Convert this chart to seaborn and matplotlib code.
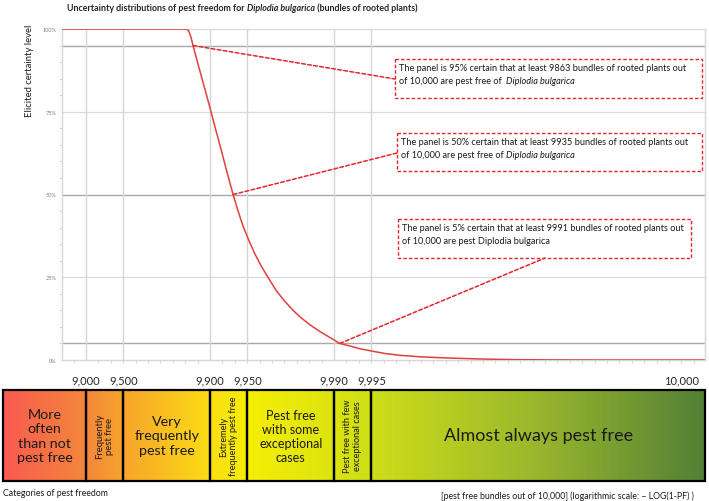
import numpy as np
import matplotlib
matplotlib.use('Agg')
import matplotlib.pyplot as plt
import seaborn as sns
from matplotlib.colors import LinearSegmentedColormap
from matplotlib.patches import Rectangle, ConnectionPatch
from matplotlib.ticker import MultipleLocator

# ============================================================================
# DATA
# ============================================================================

# pest free bundles out of 10,000 vs elicited certainty (exceedance curve)
pest_free = [8440, 9846.7, 9852.3, 9857.7, 9862.9, 9872.7, 9884.0, 9894.3,
             9901.8, 9910.5, 9920.0, 9927.1, 9934.8, 9940.6, 9945.8, 9951.5,
             9956.6, 9961.2, 9965.9, 9970.7, 9974.7, 9978.2, 9981.2, 9984.4,
             9987.0, 9989.2, 9991.0, 9992.6, 9993.8, 9995.2, 9996.2, 9997.1,
             9998.0, 9998.8, 9999.34, 9999.64, 9999.82, 9999.93, 9999.99]
certainty = [1.000, 1.000, 0.992, 0.975, 0.950, 0.905, 0.850, 0.795,
             0.750, 0.693, 0.625, 0.567, 0.500, 0.450, 0.405, 0.360,
             0.320, 0.285, 0.250, 0.210, 0.180, 0.153, 0.130, 0.106,
             0.086, 0.068, 0.050, 0.042, 0.034, 0.026, 0.019, 0.014,
             0.0095, 0.006, 0.003, 0.0012, 0.0003, 0.0, 0.0]

# quantiles quoted in the call-out boxes
q_levels = [0.95, 0.50, 0.05]
q_counts = [9863, 9935, 9991]

tick_counts = [9000, 9500, 9900, 9950, 9990, 9995]
tick_labels = ['9,000', '9,500', '9,900', '9,950', '9,990', '9,995', '10,000']

categories = ['More\noften\nthan not\npest free',
              'Frequently\npest free',
              'Very\nfrequently\npest free',
              'Extremely\nfrequently pest free',
              'Pest free\nwith some\nexceptional\ncases',
              'Pest free with few\nexceptional cases',
              'Almost always pest free']

y_ticks = [0, 0.25, 0.5, 0.75, 1.0]
y_tick_labels = ['0%', '25%', '50%', '75%', '100%']


def to_log(c):
    # logarithmic scale: -LOG(1-PF)
    return -np.log10(1 - np.asarray(c, dtype=float) / 10000)


# ============================================================================
# STYLE / LAYOUT
# ============================================================================

sns.set_style('white')
plt.rcParams['font.family'] = ['Lato', 'DejaVu Sans']

RED = '#E0403F'
BOX_RED = '#E3262C'
X_MAX = 5.99
X_MIN_PLOT = float(to_log(8440))
X_MIN_BAR = 0.33
LOG_10000 = 5.80  # where the "10,000" label sits

cat_rot = [0, 90, 0, 90, 0, 90, 0]
cat_size = [10.3, 6.8, 10.3, 6.6, 9, 6.6, 13]
cat_spacing = [1.22, 1.15, 1.22, 1.15, 1.2, 1.15, 1.2]

W, H = 709, 502
fig = plt.figure(figsize=(W / 100, H / 100), dpi=100)

# ============================================================================
# TOP PANEL: uncertainty distribution
# ============================================================================

ax = fig.add_axes([62 / W, 1 - 361 / H, (705 - 62) / W, (361 - 30) / H])

for lvl in [0.25, 0.75, 1.0]:
    ax.axhline(lvl, color='#DADADA', lw=0.9, zorder=0)
for lvl in q_levels:
    ax.axhline(lvl, color='#A8A8A8', lw=1.0, zorder=0)
for xt in to_log(tick_counts):
    ax.axvline(xt, color='#D6D6D6', lw=1.0, zorder=0)

sns.lineplot(x=to_log(pest_free), y=certainty, ax=ax, color=RED,
             linewidth=1.1, zorder=3)

ax.set_xlim(X_MIN_PLOT, X_MAX)
ax.set_ylim(0, 1)
ax.set_yticks(y_ticks)
ax.set_yticklabels(y_tick_labels)
ax.yaxis.set_minor_locator(MultipleLocator(0.05))
ax.set_xticks(to_log(tick_counts))
ax.set_xticklabels([])
ax.xaxis.set_minor_locator(MultipleLocator(0.1))
ax.tick_params(axis='y', which='major', length=0, pad=4, labelsize=4,
               labelcolor='#7F7F7F')
ax.tick_params(axis='both', which='minor', length=2.2, width=0.6,
               color='#CFCFCF', left=True, bottom=True)
ax.tick_params(axis='x', which='major', length=0)
ax.set_xlabel('')
ax.set_ylabel('')
for side in ['left', 'bottom', 'right']:
    ax.spines[side].set_color('#D6D6D6')
    ax.spines[side].set_linewidth(1.0)
ax.spines['top'].set_visible(False)

# ============================================================================
# BOTTOM PANEL: categories of pest freedom
# ============================================================================

axb = fig.add_axes([3 / W, 1 - 482 / H, (705 - 3) / W, (482 - 391) / H])

bar_cmap = LinearSegmentedColormap.from_list('pestfree', [
    (0.00, '#F95B50'), (0.12, '#F4883A'), (0.175, '#F8A72A'),
    (0.30, '#FBE012'), (0.35, '#F5EE05'), (0.47, '#DDE40E'),
    (0.53, '#CCDD18'), (0.75, '#9DB92C'), (1.00, '#538135')])
axb.imshow(np.linspace(0, 1, 600).reshape(1, -1), cmap=bar_cmap,
           aspect='auto', extent=[X_MIN_BAR, X_MAX, 0, 1], zorder=0)

edges = [X_MIN_BAR] + list(to_log(tick_counts)) + [X_MAX]
for i, label in enumerate(categories):
    x0, x1 = edges[i], edges[i + 1]
    axb.add_patch(Rectangle((x0, 0), x1 - x0, 1, fill=False, ec='black',
                            lw=1.6, zorder=2, clip_on=False))
    axb.text((x0 + x1) / 2, 0.5, label, ha='center', va='center',
             rotation=cat_rot[i], fontsize=cat_size[i], color='#1A1A1A',
             linespacing=cat_spacing[i], zorder=3)

axb.set_xlim(X_MIN_BAR, X_MAX)
axb.set_ylim(0, 1)
axb.xaxis.tick_top()
axb.set_xticks(list(to_log(tick_counts)) + [LOG_10000])
axb.set_xticklabels(tick_labels)
axb.tick_params(axis='x', length=0, pad=3, labelsize=8, labelcolor='#262626')
axb.set_yticks([])
for s in axb.spines.values():
    s.set_visible(False)

# ============================================================================
# OVERLAY: title, labels, call-out boxes (pixel coordinates)
# ============================================================================

ov = fig.add_axes([0, 0, 1, 1], zorder=5)
ov.set_xlim(0, W)
ov.set_ylim(H, 0)
ov.axis('off')

TFS = 6.4
t1 = ov.text(67, 13, 'Uncertainty distributions of pest freedom for ',
             fontsize=TFS, weight='bold', va='bottom', ha='left')
t2 = ov.annotate('Diplodia bulgarica', xy=(1, 0), xycoords=t1,
                 fontsize=TFS, weight='bold', style='italic', va='bottom')
ov.annotate(' (bundles of rooted plants)', xy=(1, 0), xycoords=t2,
            fontsize=TFS, weight='bold', va='bottom')

ov.text(30, 25, 'Elicited certainty level', rotation=90, ha='center',
        va='top', fontsize=6.8, color='#1A1A1A')

ov.text(3, 494, 'Categories of pest freedom', fontsize=6.3, va='center',
        ha='left', color='#1A1A1A')
ov.text(694, 496, '[pest free bundles out of 10,000] (logarithmic scale: \u2013 LOG(1-PF) )',
        fontsize=6.3, va='center', ha='right', color='#1A1A1A')

# call-out boxes: (left, top, width, height), anchor for leader, text
boxes = [(395, 60, 307, 39), (397, 134, 305, 38), (398, 220, 293, 39)]
anchors = [(395, 80), (397, 154), (545, 259)]
line1 = ['The panel is 95% certain that at least 9863 bundles of rooted plants out',
         'The panel is 50% certain that at least 9935 bundles of rooted plants out',
         'The panel is 5% certain that at least 9991 bundles of rooted plants out']
line2 = ['of 10,000 are pest free of  ', 'of 10,000 are pest free of ',
         'of 10,000 are pest Diplodia bulgarica']
italic = ['Diplodia bulgarica', 'Diplodia bulgarica', '']

BFS = 6.6
for i in range(3):
    bx, by, bw, bh = boxes[i]
    ov.add_patch(Rectangle((bx, by), bw, bh, fill=False, ec=BOX_RED,
                           lw=1.0, ls=(0, (2.5, 1.5))))
    ov.text(bx + 4, by + 13, line1[i], fontsize=BFS, va='bottom',
            ha='left', color='#1A1A1A')
    l2 = ov.text(bx + 4, by + 26, line2[i], fontsize=BFS, va='bottom',
                 ha='left', color='#1A1A1A')
    if italic[i]:
        ov.annotate(italic[i], xy=(1, 0), xycoords=l2, fontsize=BFS,
                    style='italic', va='bottom', color='#1A1A1A')
    con = ConnectionPatch(xyA=(float(to_log(q_counts[i])), q_levels[i]),
                          coordsA=ax.transData, xyB=anchors[i],
                          coordsB=ov.transData, color=BOX_RED, lw=1.1,
                          ls=(0, (2.5, 1.5)), zorder=6)
    fig.add_artist(con)

plt.savefig('out.png', dpi=100)
plt.close()
print('saved out.png')
